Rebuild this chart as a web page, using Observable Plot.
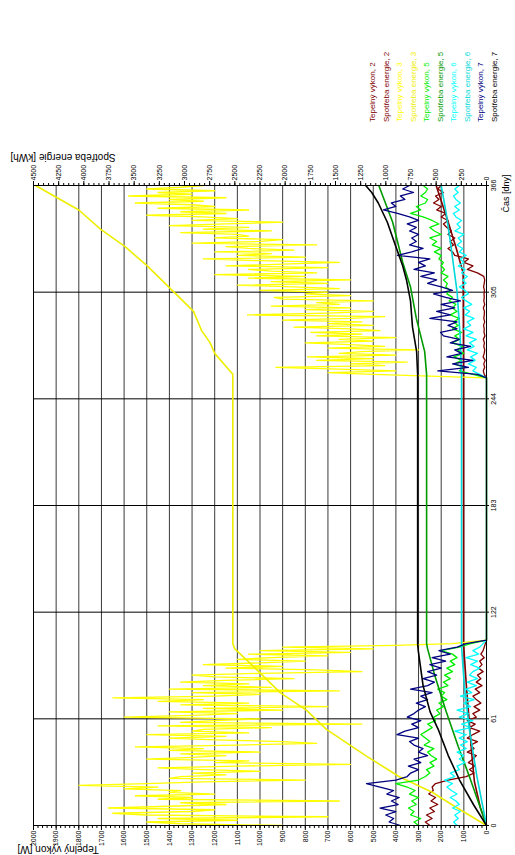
<!DOCTYPE html>
<html>
<head>
<meta charset="utf-8">
<script src="https://cdn.jsdelivr.net/npm/d3@7"></script>
<script src="https://cdn.jsdelivr.net/npm/@observablehq/plot@0.6"></script>
<style>
html, body { margin: 0; padding: 0; background: #fff; }
body { width: 515px; height: 855px; overflow: hidden; position: relative; }
#sheet {
  position: absolute; left: 0; top: 0; width: 855px; height: 515px;
  transform-origin: 0 0; transform: translate(0, 855px) rotate(-90deg);
  font-family: "Liberation Sans", Arial, sans-serif; background: #fff;
}
#chart { position: absolute; left: 0; top: 0; }
#legend { position: absolute; left: 733px; top: 366px; font-size: 8px; }
#legend div { height: 13.5px; line-height: 13.5px; white-space: nowrap; }
</style>
</head>
<body>
<div id="sheet"><div id="chart"></div><div id="legend"></div></div>
<script>
// Time grid (days of the year): heating season in winter and in autumn
const winterDays = d3.range(0, 105, 2);
const autumnDays = d3.range(258, 367, 2);
const winterDaily = d3.range(0, 105);
const autumnDaily = d3.range(258, 367);
const summerDays = [106, 256];
const summerPower = [0, 0];

const dayTicks = [0, 61, 122, 183, 244, 305, 366];
const powerTicks = d3.range(0, 2001, 100);
const powerMinor = d3.range(0, 2001, 20);
const energyTicks = d3.range(0, 4501, 250);
const energyMinor = d3.range(0, 4501, 50);

// Heating power [W]
const power2Winter = [250, 270, 240, 265, 230, 250, 215, 245, 225, 255, 235, 240, 225, 170, 90, 55, 75, 50, 80, 60, 45, 85, 55, 70, 40, 85, 60, 30, 75, 50, 85, 45, 60, 30, 55, 25, 45, 60, 30, 50, 20, 45, 25, 40, 15, 35, 20, 30, 10, 25, 15, 10, 5];
const power2Autumn = [10, 14, 8, 12, 6, 15, 10, 8, 12, 9, 14, 7, 11, 10, 13, 8, 12, 10, 9, 14, 8, 12, 10, 11, 9, 13, 10, 8, 12, 40, 85, 60, 100, 80, 140, 150, 170, 145, 160, 140, 170, 155, 175, 190, 170, 200, 180, 220, 200, 234, 210, 225, 190, 215, 200];

const power3Winter = [900, 1350, 1500, 1100, 1450, 700, 1500, 1650, 1300, 1200,
  1670, 1400, 1150, 1350, 650, 1450, 1300, 1550, 1200, 1400,
  1350, 1600, 1450, 1800, 1500, 1250, 800, 1400, 1350, 1150,
  1300, 1000, 1250, 1450, 1100, 600, 1200, 1050, 1500, 1300,
  1150, 1350, 1000, 1400, 1250, 1550, 1100, 750, 900, 1200,
  1400, 1150, 1500, 1050, 1300, 1250, 950, 1450, 550, 1350,
  1200, 1000, 1600, 1300, 1100, 1400, 900, 1250, 700, 1350,
  1050, 1450, 1250, 1650, 1200, 1000, 1300, 650, 1400, 950,
  1250, 1050, 1350, 1150, 850, 1200, 1300, 1000, 550, 750,
  1150, 900, 1250, 1000, 800, 1100, 950, 700, 1050, 600,
  1000, 500, 900, 400, 150];
const power3Autumn = [500, 700, 400, 650, 930, 450, 600, 350, 750, 500,
  790, 400, 650, 550, 300, 700, 450, 600, 800, 500,
  650, 400, 750, 550, 775, 470, 600, 850, 500, 700,
  550, 900, 600, 450, 1055, 700, 500, 800, 600, 950,
  650, 750, 500, 900, 937, 600, 800, 700, 1000, 650,
  850, 1100, 700, 950, 600, 1050, 800, 1200, 750, 950,
  1050, 700, 1150, 900, 650, 1000, 1250, 800, 1100, 950,
  1200, 850, 1050, 1150, 750, 1300, 1000, 900, 1200, 1050,
  1100, 1350, 950, 1250, 1050, 1400, 1150, 900, 1300, 1100,
  1250, 1500, 1150, 1350, 1050, 1450, 1200, 1300, 1550, 1250,
  1400, 1150, 1580, 1300, 1450, 1200, 1500, 1350, 1250];

const power5Winter = [300, 320, 290, 335, 320, 345, 310, 330, 300, 340, 315, 350, 400, 300, 270, 250, 265, 232, 250, 220, 245, 260, 232, 275, 250, 270, 290, 265, 240, 260, 225, 232, 205, 220, 190, 210, 175, 200, 185, 215, 170, 190, 160, 185, 150, 175, 140, 160, 130, 150, 200, 120, 70];
const power5Autumn = [60, 120, 100, 140, 110, 145, 100, 130, 105, 150, 120, 140, 110, 150, 125, 145, 120, 160, 130, 150, 135, 165, 150, 175, 160, 180, 173, 190, 170, 200, 185, 200, 190, 210, 200, 230, 200, 240, 220, 250, 200, 230, 250, 210, 240, 280, 335, 290, 310, 270, 260, 290, 270, 260, 280];

const power6Winter = [130, 145, 125, 140, 115, 150, 120, 135, 160, 130, 155, 175, 150, 185, 140, 160, 120, 130, 95, 120, 100, 130, 90, 115, 85, 120, 90, 140, 70, 110, 60, 120, 80, 130, 70, 100, 55, 115, 65, 90, 45, 85, 40, 75, 60, 30, 70, 40, 90, 35, 60, 30, 15];
const power6Autumn = [30, 60, 45, 80, 50, 70, 40, 85, 55, 75, 45, 90, 60, 100, 70, 85, 55, 95, 75, 100, 65, 90, 110, 80, 95, 120, 90, 105, 85, 110, 95, 125, 100, 115, 90, 120, 105, 130, 110, 125, 100, 140, 115, 130, 110, 135, 146, 120, 140, 115, 135, 146, 125, 140, 120];

const power7Winter = [380, 430, 410, 445, 400, 470, 390, 420, 385, 440, 410, 470, 530, 400, 350, 335, 300, 345, 290, 320, 260, 300, 280, 320, 340, 300, 395, 360, 300, 330, 290, 350, 320, 300, 270, 310, 260, 290, 240, 335, 260, 230, 280, 220, 260, 200, 250, 180, 240, 160, 210, 130, 90];
const power7Autumn = [40, 215, 80, 150, 60, 175, 110, 140, 70, 160, 120, 190, 203, 130, 170, 130, 250, 160, 220, 140, 200, 115, 180, 234, 150, 200, 260, 220, 290, 230, 320, 270, 300, 250, 393, 330, 280, 340, 310, 330, 300, 340, 310, 350, 300, 340, 393, 455, 400, 420, 360, 380, 322, 370, 340];

// Cumulative energy use [kWh]
const energy2Days = [0, 10, 25, 40, 55, 80, 104, 258, 316, 330, 345, 366];
const energy2 = [0, 60, 120, 145, 165, 200, 228, 228, 232, 300, 380, 500];
const energy3Days = [0, 10, 19, 28, 40, 55, 66, 76, 89, 101, 104, 258, 270, 276, 283, 294, 307, 320, 331, 341, 352, 359, 366];
const energy3 = [0, 290, 540, 870, 1200, 1590, 1790, 2050, 2280, 2500, 2520, 2520, 2700, 2745, 2830, 2910, 3140, 3370, 3590, 3835, 4050, 4265, 4480];
const energy5Days = [0, 10, 28, 45, 65, 85, 101, 104, 258, 271, 290, 308, 322, 345, 366];
const energy5 = [0, 60, 170, 280, 400, 510, 585, 595, 595, 614, 697, 755, 832, 932, 1070];
const energy6Days = [0, 28, 55, 80, 100, 104, 258, 280, 305, 330, 350, 366];
const energy6 = [0, 95, 170, 220, 245, 248, 248, 262, 292, 350, 400, 450];
const energy7Days = [0, 12, 26, 40, 55, 65, 80, 100, 104, 258, 271, 285, 300, 312, 320, 331, 345, 356, 362, 366];
const energy7 = [0, 130, 268, 380, 480, 560, 630, 678, 684, 684, 694, 735, 755, 795, 832, 900, 985, 1075, 1140, 1200];

const seriesNames = ["Tepelný výkon, 2", "Spotřeba energie, 2", "Tepelný výkon, 3", "Spotřeba energie, 3", "Tepelný výkon, 5", "Spotřeba energie, 5", "Tepelný výkon, 6", "Spotřeba energie, 6", "Tepelný výkon, 7", "Spotřeba energie, 7"];
const seriesColors = ["#800000", "#800000", "#ffff00", "#eeee00", "#00f000", "#009a00", "#00ffff", "#00d8d8", "#000080", "#000000"];

// The energy axis (0–4500 kWh) shares the vertical extent of the power axis (0–2000 W)
const kwhToY = 2000 / 4500;

const powerRows = (wDays, wVals, aDays, aVals) => [
  ...wDays.map((d, i) => ({day: d, v: wVals[i]})),
  ...summerDays.map((d, i) => ({day: d, v: summerPower[i]})),
  ...aDays.map((d, i) => ({day: d, v: aVals[i]}))
];
const energyRows = (days, vals) => days.map((d, i) => ({day: d, v: vals[i] * kwhToY}));

const seriesRows = [
  powerRows(winterDays, power2Winter, autumnDays, power2Autumn),
  energyRows(energy2Days, energy2),
  powerRows(winterDaily, power3Winter, autumnDaily, power3Autumn),
  energyRows(energy3Days, energy3),
  powerRows(winterDays, power5Winter, autumnDays, power5Autumn),
  energyRows(energy5Days, energy5),
  powerRows(winterDays, power6Winter, autumnDays, power6Autumn),
  energyRows(energy6Days, energy6),
  powerRows(winterDays, power7Winter, autumnDays, power7Autumn),
  energyRows(energy7Days, energy7)
];

const lineMarks = seriesRows.map((rows, i) =>
  Plot.line(rows, {x: "day", y: "v", stroke: seriesColors[i], strokeWidth: i % 2 ? 1.6 : 1.3})
);

const intFormat = d3.format("d");

const chart = Plot.plot({
  width: 855,
  height: 515,
  marginLeft: 29,
  marginRight: 186,
  marginTop: 33,
  marginBottom: 29,
  x: {domain: [0, 366], axis: null},
  y: {domain: [0, 2000], axis: null},
  style: {fontFamily: "'Liberation Sans', Arial, sans-serif", fontSize: "7px", background: "#fff", color: "#000", overflow: "visible"},
  marks: [
    Plot.gridY(powerTicks, {stroke: "#3a3a3a", strokeOpacity: 1}),
    Plot.gridX(dayTicks, {stroke: "#000", strokeOpacity: 1}),
    ...lineMarks,
    Plot.frame({stroke: "#000"}),
    Plot.axisY(powerMinor, {anchor: "left", tickSize: 2, tickFormat: () => "", label: null}),
    Plot.axisY(powerTicks, {anchor: "left", tickSize: 4, tickPadding: 1, fontSize: 7, tickFormat: intFormat, label: null}),
    Plot.axisY(energyMinor.map(v => v * kwhToY), {anchor: "right", tickSize: 2, tickFormat: () => "", label: null}),
    Plot.axisY(energyTicks.map(v => v * kwhToY), {anchor: "right", tickSize: 4, tickPadding: 1, fontSize: 7, tickFormat: v => intFormat(Math.round(v / kwhToY)), label: null}),
    Plot.axisX(dayTicks, {anchor: "bottom", tickSize: 3, tickPadding: 2, fontSize: 7, tickFormat: intFormat, label: null}),
    Plot.text(["Tepelný výkon [W]"], {text: d => d, frameAnchor: "top-left", rotate: -90, textAnchor: "end", lineAnchor: "middle", dx: -24, dy: -16, fontSize: 10}),
    Plot.text(["Spotřeba energie [kWh]"], {text: d => d, frameAnchor: "top-right", rotate: -90, textAnchor: "end", lineAnchor: "middle", dx: 28, dy: -23, fontSize: 10}),
    Plot.text(["Čas [dny]"], {text: d => d, frameAnchor: "bottom-right", textAnchor: "end", lineAnchor: "middle", dx: 11, dy: 20, fontSize: 9})
  ]
});
document.getElementById("chart").append(chart);

const legend = document.getElementById("legend");
seriesNames.forEach((name, i) => {
  const row = document.createElement("div");
  row.textContent = name;
  row.style.color = seriesColors[i];
  legend.append(row);
});
</script>
</body>
</html>
